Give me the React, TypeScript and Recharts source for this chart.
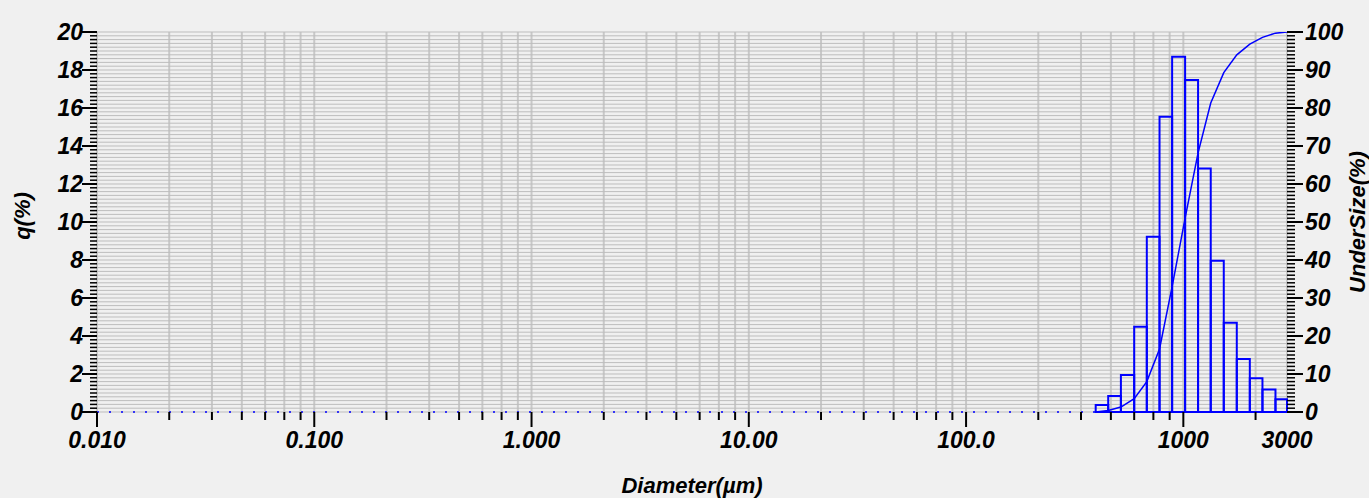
import React from 'react';
import { ComposedChart, XAxis, YAxis, CartesianGrid, Line, ReferenceArea, ReferenceLine, Label } from 'recharts';

// histogram bin edges (µm) and q(%) of each bin
const binEdges = [395, 451, 516, 594, 679, 777, 888, 1019, 1169, 1337, 1535, 1762, 2023, 2313, 2655, 3000];
const qValues = [0.37, 0.84, 1.95, 4.49, 9.23, 15.54, 18.7, 17.47, 12.82, 7.96, 4.7, 2.79, 1.77, 1.19, 0.67];
// cumulative undersize (%) read at each bin edge
const underSize = [0, 0.4, 1.3, 3.5, 8.0, 16.6, 33.0, 51.0, 68.2, 81.3, 89.3, 94.0, 96.8, 98.6, 99.7, 100];

// x axis: labelled ticks and the minor steps the instrument draws inside each decade
const decadeTicks = [0.01, 0.1, 1, 10, 100, 1000, 3000];
const decadeLabels = ['0.010', '0.100', '1.000', '10.00', '100.0', '1000', '3000'];
const minorSteps = [2.15, 3.38, 4.64, 5.94, 7.28, 8.65];

const qMajor = [0, 2, 4, 6, 8, 10, 12, 14, 16, 18, 20];
const underMajor = [0, 10, 20, 30, 40, 50, 60, 70, 80, 90, 100];

const xTicks: number[] = [];
decadeTicks.slice(0, 6).forEach(d => {
  xTicks.push(d);
  minorSteps.forEach(s => {
    if (d * s < 3000) xTicks.push(+(d * s).toPrecision(6));
  });
});
xTicks.push(3000);

// one tick mark every 0.2 on q, every 1 on undersize
const qTicks: number[] = [];
const underTicks: number[] = [];
for (let i = 0; i <= 100; i++) {
  qTicks.push(Math.round(i * 2) / 10);
  underTicks.push(i);
}

// bar heights ride along with the edges so the q axis has data of its own
const chartData = binEdges.map((d, i) => ({ d, u: underSize[i], q: i < qValues.length ? qValues[i] : 0 }));

const font = {
  fontFamily: '"Liberation Sans", Arial, sans-serif',
  fontWeight: 700,
  fontStyle: 'italic' as const,
  fontSize: 23,
  fill: '#000',
};

const XTick = (props: any) => {
  const { x, y, payload } = props;
  const v = payload.value;
  const idx = decadeTicks.indexOf(v);
  const major = idx >= 0;
  return (
    <g>
      {v !== 3000 && (
        <line x1={x} x2={x} y1={y} y2={y + (major ? 15 : 8)} stroke="#000" strokeWidth={2} />
      )}
      {major && (
        <text x={x} y={y + 36} textAnchor="middle" {...font}>
          {decadeLabels[idx]}
        </text>
      )}
    </g>
  );
};

const QTick = (props: any) => {
  const { x, y, payload } = props;
  const v = payload.value;
  const major = qMajor.some(m => Math.abs(m - v) < 1e-6);
  return (
    <g>
      <line x1={x - (major ? 15 : 7)} x2={x} y1={y} y2={y} stroke="#000" strokeWidth={major ? 2 : 1.5} />
      {major && (
        <text x={x - 14} y={y + 8} textAnchor="end" {...font}>
          {Math.round(v)}
        </text>
      )}
    </g>
  );
};

const UTick = (props: any) => {
  const { x, y, payload } = props;
  const v = payload.value;
  const major = underMajor.includes(v);
  return (
    <g>
      <line x1={x} x2={x + (major ? 16 : 8)} y1={y} y2={y} stroke="#000" strokeWidth={major ? 2 : 1.5} />
      {major && (
        <text x={x + 18} y={y + 8} textAnchor="start" {...font}>
          {v}
        </text>
      )}
    </g>
  );
};

const titleFont = { ...font, fontSize: 22 };

export default function App() {
  return (
    <div style={{ position: 'absolute', left: 0, top: 0, width: 1369, height: 498, background: '#f0f0f0', overflow: 'hidden' }}>
      <ComposedChart width={1369} height={498} data={chartData} margin={{ top: 32, right: 0, bottom: 0, left: 0 }}>
        <CartesianGrid yAxisId="q" horizontal={false} stroke="#c8c8c8" strokeWidth={2} />
        <CartesianGrid yAxisId="q" vertical={false} stroke="#bdbdbd" strokeWidth={1} />
        <XAxis
          dataKey="d"
          type="number"
          scale="log"
          domain={[0.01, 3000]}
          allowDataOverflow
          ticks={xTicks}
          interval={0}
          tick={XTick}
          tickSize={0}
          tickMargin={0}
          axisLine={false}
          tickLine={false}
          height={86}
        >
          <Label
            content={(p: any) => {
              const vb = p.viewBox;
              return (
                <text x={vb.x + vb.width / 2} y={vb.y + 81} textAnchor="middle" {...titleFont}>
                  Diameter(µm)
                </text>
              );
            }}
          />
        </XAxis>
        <YAxis
          yAxisId="q"
          orientation="left"
          type="number"
          domain={[0, 20]}
          allowDataOverflow
          ticks={qTicks}
          interval={0}
          tick={QTick}
          tickSize={0}
          tickMargin={0}
          axisLine={false}
          tickLine={false}
          width={97}
        >
          <Label
            content={(p: any) => {
              const vb = p.viewBox;
              const cx = vb.x + 30;
              const cy = vb.y + vb.height / 2 - 6;
              return (
                <text x={cx} y={cy} textAnchor="middle" transform={`rotate(-90, ${cx}, ${cy})`} {...titleFont}>
                  q(%)
                </text>
              );
            }}
          />
        </YAxis>
        <YAxis
          yAxisId="u"
          orientation="right"
          type="number"
          domain={[0, 100]}
          allowDataOverflow
          ticks={underTicks}
          interval={0}
          tick={UTick}
          tickSize={0}
          tickMargin={0}
          axisLine={false}
          tickLine={false}
          width={82}
        >
          <Label
            content={(p: any) => {
              const vb = p.viewBox;
              const cx = vb.x + vb.width - 4;
              const cy = vb.y + vb.height / 2;
              return (
                <text x={cx} y={cy} textAnchor="middle" transform={`rotate(-90, ${cx}, ${cy})`} {...titleFont}>
                  UnderSize(%)
                </text>
              );
            }}
          />
        </YAxis>

        {/* invisible carrier so the q axis gets a scale */}
        <Line yAxisId="q" dataKey="q" stroke="none" dot={false} activeDot={false} legendType="none" isAnimationActive={false} />

        <ReferenceLine
          yAxisId="q"
          segment={[{ x: 0.01, y: 0 }, { x: binEdges[0], y: 0 }]}
          stroke="#0000ff"
          strokeWidth={1.5}
          strokeDasharray="2 10"
          ifOverflow="visible"
        />
        {qValues.map((q, i) => (
          <ReferenceArea
            key={i}
            yAxisId="q"
            x1={binEdges[i]}
            x2={binEdges[i + 1]}
            y1={0}
            y2={q}
            fill="none"
            stroke="#0000ff"
            strokeWidth={2}
            strokeOpacity={1}
            ifOverflow="visible"
          />
        ))}
        <Line
          yAxisId="u"
          dataKey="u"
          type="linear"
          stroke="#0000ff"
          strokeWidth={1.5}
          dot={false}
          activeDot={false}
          isAnimationActive={false}
        />
      </ComposedChart>
    </div>
  );
}
